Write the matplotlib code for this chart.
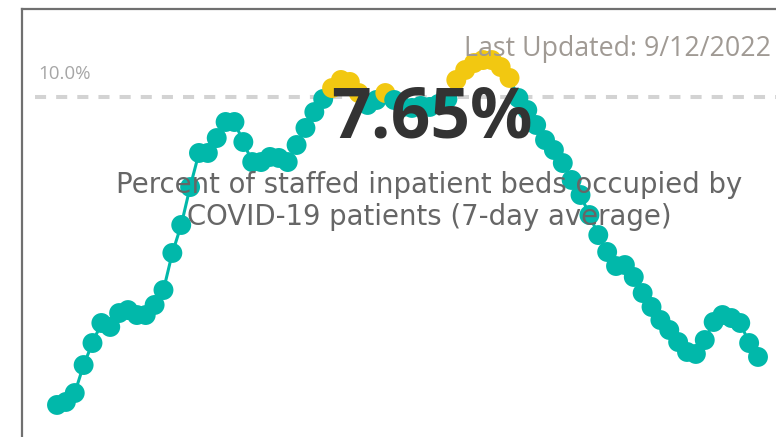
import matplotlib
matplotlib.use("Agg")
import matplotlib.pyplot as plt
import numpy as np
from matplotlib.collections import LineCollection

# ---- data ----
values = [7.216, 7.243, 7.324, 7.577, 7.776, 7.957, 7.921, 8.047, 8.074, 8.029,
          8.029, 8.120, 8.255, 8.590, 8.843, 9.186, 9.494, 9.494, 9.629, 9.774,
          9.774, 9.593, 9.412, 9.412, 9.458, 9.449, 9.412, 9.566, 9.720, 9.864,
          9.982, 10.081, 10.154, 10.136, 10.036, 9.928, 9.973, 10.036, 9.973, 9.910,
          9.901, 9.919, 9.910, 9.937, 9.982, 10.154, 10.244, 10.307, 10.334, 10.334,
          10.271, 10.172, 9.991, 9.882, 9.747, 9.611, 9.521, 9.403, 9.250, 9.114,
          8.933, 8.752, 8.599, 8.472, 8.481, 8.373, 8.228, 8.102, 7.984, 7.894,
          7.785, 7.695, 7.677, 7.803, 7.966, 8.029, 8.002, 7.957, 7.776, 7.650]
threshold = 10.0
threshold_label = "10.0%"
card_value = "7.65%"
card_title_1 = "Percent of staffed inpatient beds occupied by"
card_title_2 = "COVID-19 patients (7-day average)"
updated_text = "Last Updated: 9/12/2022"

TEAL = "#01B8AA"
GOLD = "#F2C811"

W, H = 776, 437
fig = plt.figure(figsize=(W / 100, H / 100), dpi=100)
ax = fig.add_axes([0, 0, 1, 1])
ax.set_axis_off()

n = len(values)
x = np.arange(n)
sp = (758 - 57) / (n - 1)
ax.set_xlim(-57 / sp, (W - 57) / sp)
k = 0.00904
ax.set_ylim(threshold - (H - 97) * k, threshold + 97 * k)

vals = np.array(values)
ax.plot([(35 - 57) / sp, (W + 10 - 57) / sp], [threshold, threshold], color="#D3D3D3",
        lw=2.9, dashes=(2.75, 2.5), zorder=1, solid_capstyle="butt", dash_capstyle="butt")

segs = [[(x[i], vals[i]), (x[i + 1], vals[i + 1])] for i in range(n - 1)]
cols = [GOLD if (vals[i] > threshold and vals[i + 1] > threshold) else TEAL for i in range(n - 1)]
ax.add_collection(LineCollection(segs, colors=cols, linewidths=2.2, zorder=2))
mcol = [GOLD if v > threshold else TEAL for v in vals]
ax.scatter(x, vals, s=205, c=mcol, edgecolors="none", zorder=3)

# border
fig.add_artist(plt.Line2D([22 / W, 22 / W], [0, 1 - 9 / H], color="#707070", lw=1.6))
fig.add_artist(plt.Line2D([22 / W, 1], [1 - 9 / H, 1 - 9 / H], color="#707070", lw=1.6))

def fx(px):
    return px / W

def fy(py):
    return 1 - py / H

fig.text(fx(38), fy(79), threshold_label, fontsize=13.5, color="#A6A6A6",
         family="Open Sans", va="baseline", ha="left", zorder=5)
fig.text(fx(771), fy(56), updated_text, fontsize=19.3, color="#A09A94",
         family="Open Sans", va="baseline", ha="right", zorder=5)
fig.text(fx(432), fy(138), card_value, fontsize=50, color="#333333",
         family="Open Sans", weight="bold", va="baseline", ha="center", zorder=5)
fig.text(fx(429), fy(193), card_title_1, fontsize=19.8, color="#666666",
         family="DejaVu Sans", va="baseline", ha="center", zorder=5)
fig.text(fx(429), fy(225), card_title_2, fontsize=19.8, color="#666666",
         family="DejaVu Sans", va="baseline", ha="center", zorder=5)

fig.savefig("out.png", dpi=100)
